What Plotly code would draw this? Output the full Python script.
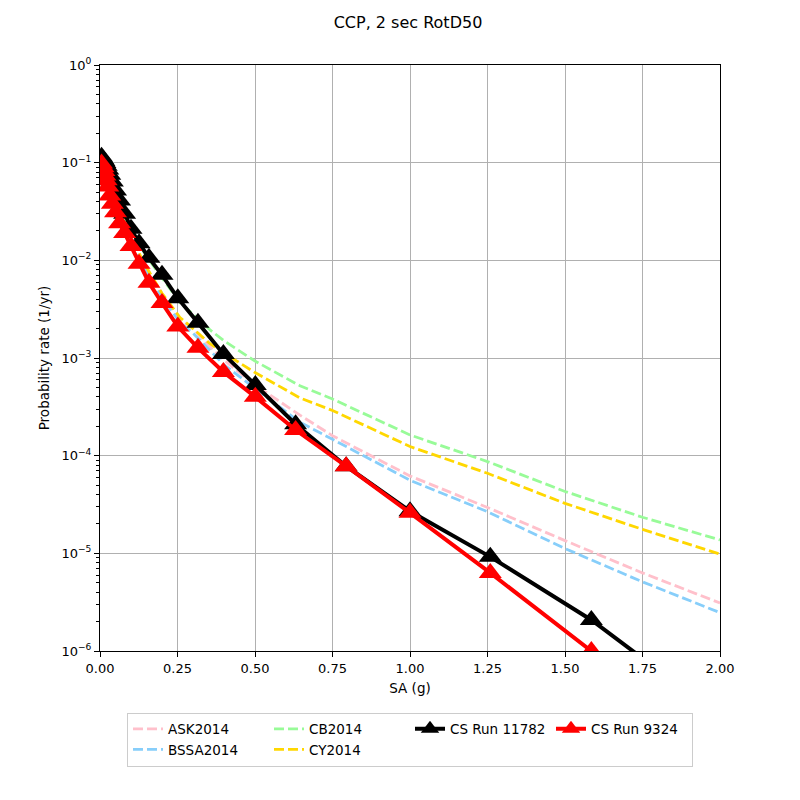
import plotly.graph_objects as go

# hazard curves
x_gmpe = [0.01, 0.05, 0.1, 0.15, 0.2, 0.258, 0.3, 0.355, 0.4, 0.5, 0.645, 0.75, 1.0, 1.25, 1.5, 1.75, 2.0]
ask2014 = [0.1, 0.037, 0.016, 0.0082, 0.0045, 0.0025, 0.002, 0.0013, 9.5e-4, 5.3e-4, 2.6e-4, 1.6e-4, 6.2e-5,
           2.95e-5, 1.35e-5, 6.3e-6, 3.1e-6]
bssa2014 = [0.1, 0.035, 0.015, 0.0077, 0.0042, 0.0023, 0.0018, 0.0012, 8.5e-4, 4.9e-4, 2.2e-4, 1.47e-4, 5.6e-5,
            2.67e-5, 1.12e-5, 5.1e-6, 2.47e-6]
cb2014 = [0.105, 0.042, 0.02, 0.011, 0.0066, 0.0037, 0.0028, 0.00194, 0.0015, 9.3e-4, 5.2e-4, 3.8e-4, 1.63e-4,
          8.7e-5, 4.3e-5, 2.34e-5, 1.37e-5]
cy2014 = [0.1, 0.038, 0.017, 0.0085, 0.0046, 0.0026, 0.002, 0.0014, 0.00112, 7.1e-4, 3.9e-4, 2.9e-4, 1.24e-4,
          6.6e-5, 3.25e-5, 1.76e-5, 9.8e-6]

x_cs = [0.005, 0.01, 0.0126, 0.0158, 0.02, 0.0251, 0.0316, 0.0398, 0.0501, 0.0631, 0.0794, 0.1, 0.126, 0.158,
        0.2, 0.251, 0.316, 0.398, 0.501, 0.631, 0.794, 1.0, 1.259, 1.585, 1.995]
cs_11782 = [0.115, 0.108, 0.104, 0.099, 0.093, 0.085, 0.075, 0.064, 0.052, 0.041, 0.03, 0.021, 0.015, 0.0106,
            0.0071, 0.0041, 0.0023, 0.0011, 5.3e-4, 2.1e-4, 7.8e-5, 2.7e-5, 9.2e-6, 2.08e-6, 2.2e-7]
cs_9324 = [0.098, 0.09, 0.082, 0.074, 0.066, 0.057, 0.046, 0.038, 0.031, 0.024, 0.019, 0.014, 0.0092, 0.0059,
           0.00366, 0.0021, 0.00127, 7.2e-4, 4.0e-4, 1.83e-4, 7.8e-5, 2.6e-5, 6.3e-6, 1.0e-6, 1.2e-7]

y_ticks = [1e-6, 1e-5, 1e-4, 1e-3, 1e-2, 1e-1, 1]
y_tick_text = ['10<sup>−6</sup>', '10<sup>−5</sup>', '10<sup>−4</sup>', '10<sup>−3</sup>',
               '10<sup>−2</sup>', '10<sup>−1</sup>', '10<sup>0</sup>']

fig = go.Figure()

dash = '10px,4px'
# legendrank puts the entries in the same column-major order as the reference legend
gmpes = [('ASK2014', ask2014, 'pink', 1), ('BSSA2014', bssa2014, 'lightskyblue', 5),
         ('CB2014', cb2014, 'palegreen', 2), ('CY2014', cy2014, 'gold', 6)]
for name, vals, color, rank in gmpes:
    fig.add_trace(go.Scatter(x=x_gmpe, y=vals, name=name, mode='lines', legendrank=rank,
                             line=dict(color=color, width=2.8, dash=dash)))

fig.add_trace(go.Scatter(x=x_cs, y=cs_11782, name='CS Run 11782', mode='lines+markers', legendrank=3,
                         line=dict(color='black', width=4),
                         marker=dict(symbol='triangle-up', size=20, color='black')))
fig.add_trace(go.Scatter(x=x_cs, y=cs_9324, name='CS Run 9324', mode='lines+markers', legendrank=4,
                         line=dict(color='red', width=4),
                         marker=dict(symbol='triangle-up', size=20, color='red')))

axis_style = dict(showline=True, linecolor='black', linewidth=1, mirror=True, ticks='outside',
                  ticklen=5, tickcolor='black', showgrid=True, gridcolor='#b0b0b0', gridwidth=1,
                  zeroline=False, tickfont=dict(size=13, color='black'))

fig.update_xaxes(range=[0, 2], tickvals=[0, 0.25, 0.5, 0.75, 1.0, 1.25, 1.5, 1.75, 2.0], tickformat='.2f',
                 title=dict(text='SA (g)', font=dict(size=13.5, color='black'), standoff=8), **axis_style)
fig.update_yaxes(type='log', range=[-6, 0], tickvals=y_ticks, ticktext=y_tick_text,
                 minor=dict(ticks='outside', ticklen=3, tickcolor='black', dtick='D1', showgrid=False),
                 title=dict(text='Probability rate (1/yr)', font=dict(size=13.5, color='black'), standoff=8),
                 **axis_style)

# page body has an 8px margin, so shift everything up/left by 8px
fig.update_layout(
    width=800, height=800,
    margin=dict(l=92, r=88, t=57, b=157),
    paper_bgcolor='white', plot_bgcolor='white',
    font=dict(family='DejaVu Sans', color='black'),
    title=dict(text='CCP, 2 sec RotD50', x=0.5, xanchor='center', y=0.9825, yanchor='middle',
               font=dict(size=16, color='black')),
    legend=dict(orientation='h', x=0.5, xanchor='center', y=-0.105, yanchor='top',
                bordercolor='#cccccc', borderwidth=1, font=dict(size=13.5),
                entrywidth=96, entrywidthmode='pixels', tracegroupgap=0),
)

fig.write_html('out.html')
